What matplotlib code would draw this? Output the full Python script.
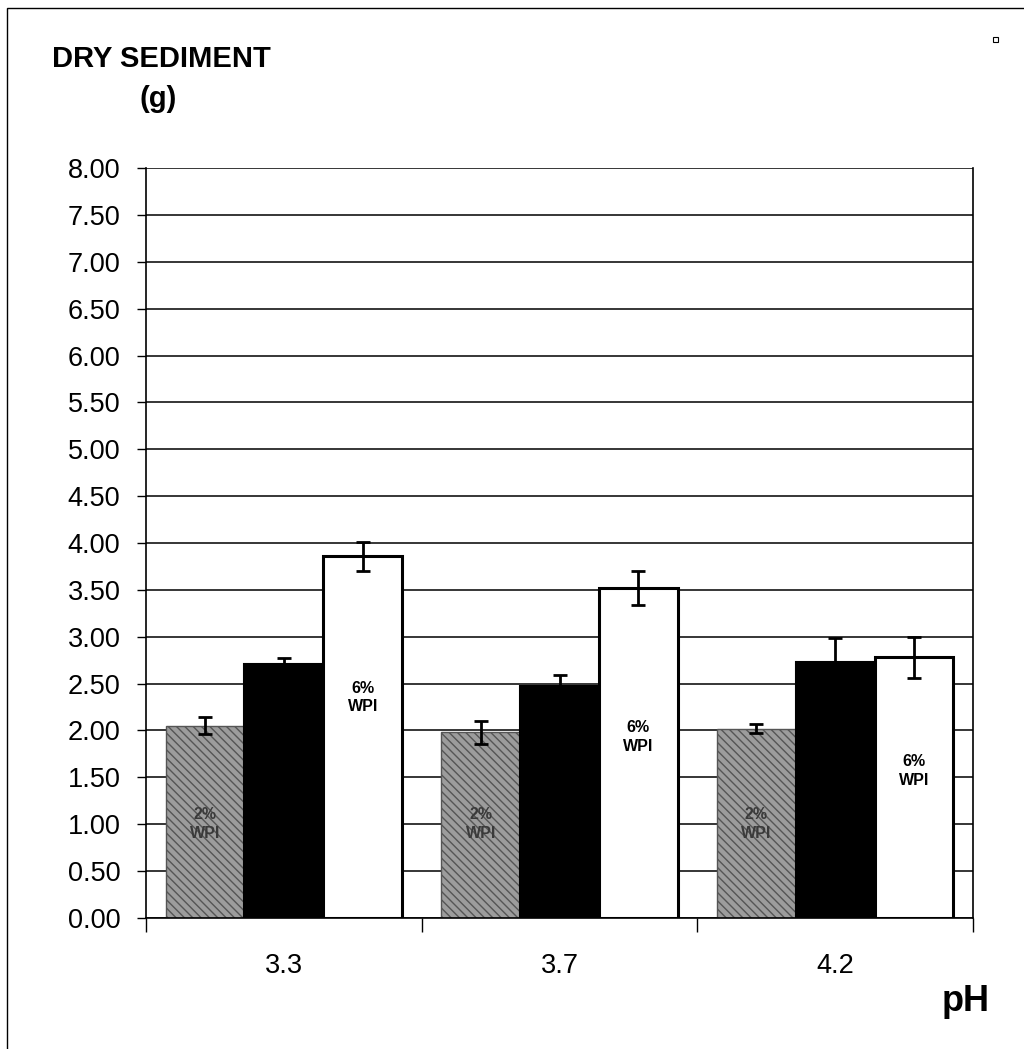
import numpy as np
import matplotlib.pyplot as plt
from matplotlib.patches import Rectangle

plt.rcParams['font.family'] = ['Liberation Sans', 'DejaVu Sans']
plt.rcParams['hatch.linewidth'] = 1.0

# Dry sediment by pH for 2%, 4% and 6% WPI
ph_labels = ['3.3', '3.7', '4.2']
sed_2 = [2.05, 1.98, 2.02]
sed_4 = [2.71, 2.48, 2.73]
sed_6 = [3.86, 3.52, 2.78]
err_2 = [0.09, 0.12, 0.05]
err_4 = [0.06, 0.11, 0.26]
err_6 = [0.155, 0.18, 0.22]
label_y_2 = [1.0, 1.0, 1.0]
label_y_6 = [2.35, 1.93, 1.57]

fig = plt.figure(figsize=(10.24, 10.49), dpi=100)
ax = fig.add_axes([0.1426, 0.1249, 0.8076, 0.7149])

x = np.arange(len(ph_labels))
w = 0.286

ax.bar(x - w, sed_2, w, color='#9c9c9c', edgecolor='#555555', hatch='\\\\\\\\',
       linewidth=1.0, zorder=2)
ax.bar(x, sed_4, w, color='black', edgecolor='black', linewidth=1.5, zorder=2)
ax.bar(x + w, sed_6, w, color='white', edgecolor='black', linewidth=2.2, zorder=2)

for off, vals, errs in [(-w, sed_2, err_2), (0, sed_4, err_4), (w, sed_6, err_6)]:
    ax.errorbar(x + off, vals, yerr=errs, fmt='none', ecolor='black',
                elinewidth=2.0, capsize=5, capthick=2.0, zorder=3)

for i in x:
    ax.text(i - w, label_y_2[i], '2%\nWPI', ha='center', va='center',
            fontsize=11.5, fontweight='bold', color='#3a3a3a', zorder=4,
            linespacing=1.3)
    ax.text(i + w, label_y_6[i], '6%\nWPI', ha='center', va='center',
            fontsize=11.5, fontweight='bold', color='black', zorder=4,
            linespacing=1.3)

ax.set_xlim(-0.5, 2.5)
ax.set_ylim(0, 8)
yt = np.arange(0, 8.01, 0.5)
ax.set_yticks(yt)
ax.set_yticklabels([f'{v:.2f}' for v in yt], fontsize=19.5)
ax.yaxis.grid(True, color='black', linewidth=1.1, zorder=0)
ax.set_axisbelow(True)

ax.set_xticks(x)
ax.set_xticklabels(ph_labels, fontsize=19.5)
ax.set_xticks(np.arange(-0.5, 2.6, 1.0), minor=True)
ax.tick_params(axis='x', which='major', length=0, pad=25)
ax.tick_params(axis='x', which='minor', length=10, width=1.0)
ax.tick_params(axis='y', length=6.5, width=1.0, pad=12)

ax.spines['top'].set_visible(False)
ax.spines['bottom'].set_linewidth(1.2)
for side in ['left', 'right']:
    ax.spines[side].set_linewidth(1.2)
    ax.spines[side].set_linestyle((0, (4, 1)))

fig.text(0.051, 0.944, 'DRY SEDIMENT', fontsize=21, fontweight='bold',
         ha='left', va='center')
fig.text(0.154, 0.906, '(g)', fontsize=21, fontweight='bold',
         ha='center', va='center')
fig.text(0.966, 0.045, 'pH', fontsize=26, fontweight='bold',
         ha='right', va='center')

# page frame and small corner mark
fig.add_artist(Rectangle((0.007, -0.01), 1.0, 1.002, transform=fig.transFigure,
                         fill=False, edgecolor='black', linewidth=1.0))
fig.add_artist(Rectangle((0.970, 0.960), 0.005, 0.005, transform=fig.transFigure,
                         fill=False, edgecolor='black', linewidth=0.8))

fig.savefig('out.png', dpi=100)
